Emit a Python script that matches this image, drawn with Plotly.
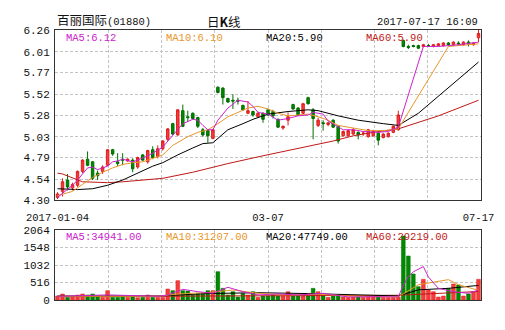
import plotly.graph_objects as go

# ---------------- data ----------------
idx = list(range(85))
x_tick_pos = [0, 42, 84]
x_tick_text = ["2017-01-04", "03-07", "07-17"]

opens = [4.33, 4.40, 4.53, 4.44, 4.47, 4.63, 4.77, 4.74, 4.61, 4.63,
         4.70, 4.88, 4.74, 4.77, 4.75, 4.76, 4.68, 4.82, 4.74, 4.88,
         4.80, 4.89, 5.00, 5.18, 5.05, 5.33, 5.26, 5.30, 5.25, 5.11,
         5.10, 5.01, 5.60, 5.59, 5.47, 5.45, 5.45, 5.39, 5.30, 5.32,
         5.26, 5.30, 5.34, 5.32, 5.23, 5.13, 5.22, 5.40, 5.36, 5.30,
         5.48, 5.34, 5.16, 5.19, 5.17, 5.22, 5.15, 5.04, 5.04, 5.06,
         5.08, 5.07, 5.03, 5.04, 5.07, 5.02, 5.03, 5.08, 5.11, 6.14,
         6.07, 6.08, 6.08, 6.07, 6.08, 6.07, 6.08, 6.08, 6.11, 6.09,
         6.11, 6.09, 6.12, 6.09, 6.17]
highs = [4.39, 4.55, 4.60, 4.50, 4.64, 4.77, 4.86, 4.75, 4.64, 4.70,
         4.88, 4.89, 4.84, 4.84, 4.78, 4.78, 4.80, 4.83, 4.88, 4.92,
         4.93, 4.99, 5.13, 5.19, 5.34, 5.40, 5.33, 5.31, 5.26, 5.13,
         5.11, 5.12, 5.61, 5.60, 5.48, 5.52, 5.48, 5.40, 5.44, 5.33,
         5.32, 5.31, 5.35, 5.34, 5.24, 5.16, 5.31, 5.41, 5.37, 5.42,
         5.49, 5.36, 5.25, 5.22, 5.20, 5.23, 5.16, 5.10, 5.11, 5.13,
         5.09, 5.09, 5.12, 5.11, 5.09, 5.07, 5.08, 5.16, 5.33, 6.15,
         6.09, 6.09, 6.09, 6.10, 6.10, 6.10, 6.11, 6.12, 6.12, 6.13,
         6.13, 6.13, 6.14, 6.12, 6.26]
lows = [4.31, 4.34, 4.41, 4.41, 4.45, 4.61, 4.69, 4.53, 4.53, 4.60,
        4.69, 4.81, 4.69, 4.70, 4.74, 4.62, 4.66, 4.75, 4.72, 4.77,
        4.78, 4.87, 4.98, 5.05, 5.04, 5.14, 5.20, 5.23, 5.13, 5.03,
        4.96, 5.00, 5.53, 5.40, 5.42, 5.35, 5.40, 5.33, 5.29, 5.26,
        5.25, 5.19, 5.27, 5.24, 5.13, 5.11, 5.16, 5.34, 5.27, 5.29,
        5.40, 5.00, 5.14, 5.10, 5.15, 5.13, 4.95, 5.03, 5.03, 5.05,
        5.00, 5.04, 5.02, 5.03, 4.93, 5.01, 5.02, 5.07, 5.10, 6.06,
        6.04, 6.06, 6.04, 6.06, 6.07, 6.06, 6.07, 6.07, 6.08, 6.08,
        6.09, 6.08, 6.07, 6.08, 6.12]
closes = [4.37, 4.51, 4.45, 4.48, 4.63, 4.76, 4.70, 4.55, 4.58, 4.68,
          4.88, 4.83, 4.72, 4.76, 4.77, 4.66, 4.79, 4.76, 4.87, 4.79,
          4.89, 4.98, 5.12, 5.06, 5.34, 5.15, 5.25, 5.24, 5.15, 5.05,
          5.04, 5.11, 5.54, 5.48, 5.43, 5.44, 5.44, 5.34, 5.33, 5.28,
          5.30, 5.23, 5.28, 5.27, 5.14, 5.15, 5.26, 5.35, 5.28, 5.41,
          5.41, 5.24, 5.22, 5.18, 5.19, 5.14, 4.98, 5.09, 5.10, 5.11,
          5.05, 5.07, 5.11, 5.10, 4.99, 5.06, 5.07, 5.15, 5.28, 6.07,
          6.06, 6.07, 6.05, 6.09, 6.08, 6.09, 6.10, 6.11, 6.09, 6.12,
          6.10, 6.12, 6.10, 6.11, 6.22]

volumes = [118, 177, 79, 88, 147, 177, 147, 177, 118, 79,
           275, 79, 79, 88, 79, 88, 69, 79, 147, 79,
           79, 79, 324, 275, 570, 275, 265, 147, 196, 196,
           275, 275, 835, 344, 147, 245, 88, 196, 147, 245,
           79, 118, 118, 147, 118, 147, 245, 118, 118, 118,
           118, 344, 245, 147, 79, 118, 147, 88, 79, 88,
           88, 79, 118, 88, 118, 79, 79, 79, 88, 1887,
           1298, 767, 393, 610, 295, 245, 88, 118, 344, 472,
           442, 118, 177, 245, 610]

# moving-average lines (vertices)
ma5_idx = [0, 3, 4, 6, 7, 8, 10, 11, 12, 13, 15, 16, 18, 19, 21, 23, 25, 27, 28, 29,
           30, 31, 32, 34, 36, 38, 39, 40, 42, 44, 46, 48, 50, 51, 53, 54, 56, 57, 59,
           61, 64, 66, 68, 73, 76, 80, 84]
ma5_val = [4.33, 4.47, 4.53, 4.67, 4.68, 4.65, 4.69, 4.74, 4.75, 4.77, 4.74, 4.76, 4.81,
           4.84, 4.91, 5.05, 5.18, 5.23, 5.22, 5.16, 5.11, 5.11, 5.22, 5.36, 5.45, 5.43,
           5.38, 5.31, 5.29, 5.22, 5.24, 5.27, 5.28, 5.31, 5.29, 5.21, 5.14, 5.11, 5.11,
           5.09, 5.08, 5.09, 5.14, 6.07, 6.07, 6.09, 6.12]
ma10_idx = [0, 3, 5, 7, 9, 11, 13, 15, 17, 19, 21, 23, 26, 28, 30, 32, 34, 36, 38, 40,
            42, 44, 46, 48, 50, 52, 54, 56, 58, 60, 62, 65, 68, 78, 84]
ma10_val = [4.35, 4.40, 4.48, 4.56, 4.62, 4.67, 4.71, 4.73, 4.74, 4.78, 4.82, 4.93, 5.03,
            5.08, 5.11, 5.18, 5.26, 5.31, 5.36, 5.38, 5.35, 5.30, 5.27, 5.28, 5.29, 5.26,
            5.22, 5.16, 5.14, 5.12, 5.10, 5.10, 5.12, 6.07, 6.10]
ma20_idx = [0, 4, 7, 10, 13, 16, 19, 21, 24, 27, 29, 31, 34, 37, 39, 42, 46, 50, 52, 56,
            60, 65, 68, 72, 78, 84]
ma20_val = [4.43, 4.42, 4.43, 4.47, 4.53, 4.61, 4.69, 4.73, 4.82, 4.90, 4.95, 4.96, 5.11,
            5.18, 5.23, 5.29, 5.32, 5.34, 5.33, 5.27, 5.22, 5.18, 5.16, 5.30, 5.60, 5.89]
ma60_idx = [0, 1, 5, 10, 13, 17, 21, 27, 34, 41, 45, 48, 55, 59, 63, 68, 76, 84]
ma60_val = [4.61, 4.60, 4.51, 4.50, 4.51, 4.53, 4.55, 4.62, 4.72, 4.81, 4.86, 4.89, 4.98,
            5.04, 5.08, 5.12, 5.27, 5.45]

vma5_idx = [0, 10, 20, 22, 25, 28, 31, 34, 37, 40, 44, 48, 53, 58, 64, 68, 69, 70, 71, 73,
            74, 76, 79, 82, 84]
vma5_val = [110, 150, 110, 150, 315, 245, 200, 374, 245, 150, 180, 150, 196, 90, 100, 90,
            440, 690, 830, 985, 680, 344, 245, 196, 295]
vma10_idx = [0, 20, 24, 30, 35, 40, 45, 52, 58, 68, 72, 76, 78, 80, 84]
vma10_val = [110, 110, 177, 220, 295, 200, 150, 170, 120, 90, 450, 541, 600, 450, 285]
vma20_idx = [0, 20, 30, 40, 50, 60, 68, 72, 78, 84]
vma20_val = [118, 118, 190, 215, 190, 150, 120, 300, 344, 430]
vma60_idx = [0, 30, 60, 68, 84]
vma60_val = [100, 120, 150, 140, 250]

price_ticks = ["4.30", "4.54", "4.79", "5.03", "5.28", "5.52", "5.77", "6.01", "6.26"]
vol_ticks = ["0", "516", "1032", "1548", "2064"]

title_left = "<span style=\"font-size:12.5px\">百丽国际</span>(01880)"
title_mid = "日<b>K</b>线"
title_right = "2017-07-17 16:09"
price_legend = ["MA5:6.12", "MA10:6.10", "MA20:5.90", "MA60:5.90"]
vol_legend = ["MA5:34941.00", "MA10:31207.00", "MA20:47749.00", "MA60:29219.00"]

# ---------------- styles ----------------
RED_FILL, RED_LINE = "#f53c3c", "#e01e1e"
GRN_FILL, GRN_LINE = "#008a00", "#006e00"
C_MA = ["#cc22cc", "#e8962a", "#000000", "#c01818"]
GRID = "#c4c4c4"
BORDER = "#333333"
MONO = "Liberation Mono, DejaVu Sans Mono, monospace"
CJK = "Liberation Mono, Noto Sans CJK SC"

fig = go.Figure()

fig.add_trace(go.Candlestick(
    x=idx, open=opens, high=highs, low=lows, close=closes,
    increasing=dict(line=dict(color=RED_LINE, width=1), fillcolor=RED_FILL),
    decreasing=dict(line=dict(color=GRN_LINE, width=1), fillcolor=GRN_FILL),
    whiskerwidth=0, hoverinfo="skip", xaxis="x", yaxis="y"))

for xs, ys, c in [(ma60_idx, ma60_val, C_MA[3]), (ma20_idx, ma20_val, C_MA[2]),
                  (ma10_idx, ma10_val, C_MA[1]), (ma5_idx, ma5_val, C_MA[0])]:
    fig.add_trace(go.Scatter(x=xs, y=ys, mode="lines", line=dict(color=c, width=1),
                             hoverinfo="skip", xaxis="x", yaxis="y"))

vol_colors = [RED_FILL if c >= o else GRN_FILL for o, c in zip(opens, closes)]
vol_lines = [RED_LINE if c >= o else GRN_LINE for o, c in zip(opens, closes)]
fig.add_trace(go.Bar(x=idx, y=volumes, width=0.75,
                     marker=dict(color=vol_colors, line=dict(color=vol_lines, width=0.5)),
                     hoverinfo="skip", xaxis="x2", yaxis="y2"))

for xs, ys, c in [(vma60_idx, vma60_val, C_MA[3]), (vma20_idx, vma20_val, C_MA[2]),
                  (vma10_idx, vma10_val, C_MA[1]), (vma5_idx, vma5_val, C_MA[0])]:
    fig.add_trace(go.Scatter(x=xs, y=ys, mode="lines", line=dict(color=c, width=1),
                             hoverinfo="skip", xaxis="x2", yaxis="y2"))

# vertical grid at eight equal divisions
x_lo, x_hi = -0.5, len(idx) - 0.5
grid_x = [x_lo + k * (x_hi - x_lo) / 8 for k in range(1, 8)]

axis_common = dict(showline=True, linecolor=BORDER, linewidth=1, mirror=True,
                   zeroline=False, ticks="", fixedrange=True)
minor_grid = dict(tickvals=grid_x, showgrid=True, gridcolor=GRID, griddash="3px,2px",
                  gridwidth=1, ticks="")

top_frac = 100 / 270
vol_frac = 70 / 270

fig.update_layout(
    width=505, height=330,
    margin=dict(l=55, r=24, t=30, b=30, pad=0),
    paper_bgcolor="white", plot_bgcolor="white",
    showlegend=False,
    font=dict(family=MONO, size=10, color="#111111"),
    xaxis=dict(domain=[0, 1], anchor="y", range=[x_lo, x_hi],
               tickvals=x_tick_pos, ticktext=x_tick_text, showgrid=False,
               minor=minor_grid, rangeslider=dict(visible=False),
               tickfont=dict(family=MONO, size=10.5, color="#111"),
               ticklabelstandoff=7, **axis_common),
    yaxis=dict(domain=[top_frac, 1], anchor="x", range=[4.30, 6.26],
               tickvals=[float(t) for t in price_ticks], ticktext=price_ticks,
               showgrid=True, gridcolor=GRID, griddash="3px,2px",
               tickfont=dict(family=MONO, size=11, color="#111"),
               ticklabelstandoff=2, **axis_common),
    xaxis2=dict(domain=[0, 1], anchor="y2", range=[x_lo, x_hi], matches="x",
                showticklabels=False, showgrid=False, minor=minor_grid, **axis_common),
    yaxis2=dict(domain=[0, vol_frac], anchor="x2", range=[0, 2064],
                tickvals=[float(t) for t in vol_ticks], ticktext=vol_ticks,
                showgrid=True, gridcolor=GRID, griddash="3px,2px",
                tickfont=dict(family=MONO, size=11, color="#111"),
                ticklabelstandoff=2, **axis_common),
    bargap=0.2,
)

ann = []
ann.append(dict(text=title_left, x=0, y=(300 - 22) / 270, xref="paper", yref="paper",
                xanchor="left", yanchor="middle", showarrow=False,
                font=dict(family=CJK, size=10.5, color="#111")))
ann.append(dict(text=title_mid, x=(224 - 55) / 426, y=(300 - 22) / 270, xref="paper",
                yref="paper", xanchor="center", yanchor="middle", showarrow=False,
                font=dict(family="Noto Sans CJK SC", size=12.5, color="#111")))
ann.append(dict(text=title_right, x=(480 - 55) / 426, y=(300 - 22) / 270, xref="paper",
                yref="paper", xanchor="right", yanchor="middle", showarrow=False,
                font=dict(family=MONO, size=10.5, color="#111")))
leg_x = [(64 - 55) / 426, (164 - 55) / 426, (264 - 55) / 426, (364 - 55) / 426]
for txt, lx, c in zip(price_legend, leg_x, C_MA):
    ann.append(dict(text=txt, x=lx, y=(300 - 37.5) / 270, xref="paper", yref="paper",
                    xanchor="left", yanchor="middle", showarrow=False,
                    font=dict(family=MONO, size=10.5, color=c)))
for txt, lx, c in zip(vol_legend, leg_x, C_MA):
    ann.append(dict(text=txt, x=lx, y=(300 - 236.5) / 270, xref="paper", yref="paper",
                    xanchor="left", yanchor="middle", showarrow=False,
                    font=dict(family=MONO, size=10.5, color=c)))
fig.update_layout(annotations=ann)

fig.write_html("out.html")
